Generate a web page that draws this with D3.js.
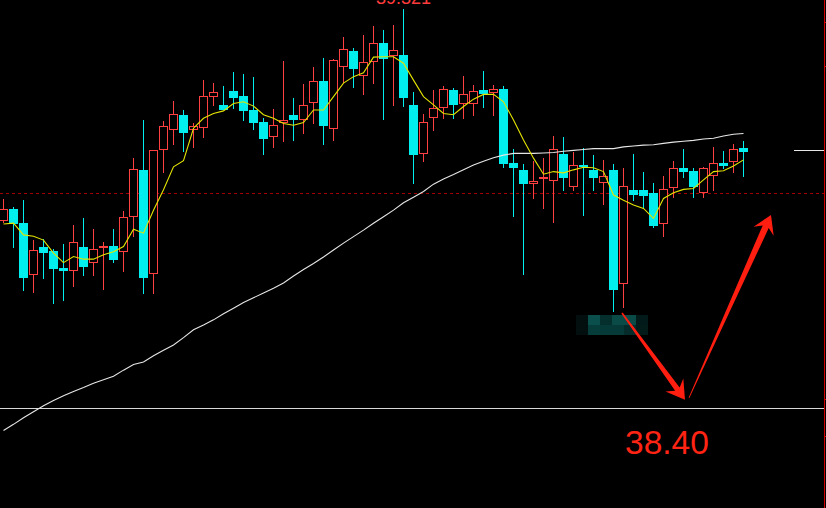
<!DOCTYPE html>
<html><head><meta charset="utf-8">
<script src="https://cdn.jsdelivr.net/npm/d3@7"></script>
<style>html,body{margin:0;padding:0;background:#000;overflow:hidden}</style>
</head><body>
<svg id="c" width="826" height="508"></svg>
<script>
// ---- data (prices) ----
const open = [38.833,38.860,38.828,38.707,38.772,38.763,38.724,38.717,38.772,38.734,
38.770,38.774,38.761,38.841,38.950,38.709,38.995,39.043,39.077,39.043,
39.046,39.119,39.100,39.132,39.120,39.088,39.060,39.025,39.059,39.077,
39.066,39.105,39.155,39.044,39.187,39.224,39.167,39.198,39.243,39.212,
39.215,39.100,38.986,39.069,39.092,39.134,39.103,39.103,39.134,39.127,
39.136,38.966,38.950,38.918,38.929,38.925,38.987,38.911,38.961,38.950,
38.919,38.950,38.686,38.904,38.904,38.897,38.824,38.907,38.954,38.947,
38.896,38.935,38.966,38.969,39.000];
const high = [38.883,38.864,38.880,38.788,38.790,38.767,38.779,38.823,38.839,38.814,
38.783,38.814,38.855,38.977,39.065,38.995,39.063,39.109,39.088,39.058,
39.157,39.150,39.143,39.176,39.171,39.164,39.069,39.090,39.201,39.116,
39.148,39.187,39.207,39.206,39.256,39.230,39.261,39.282,39.273,39.284,
39.321,39.129,39.078,39.134,39.143,39.138,39.166,39.146,39.178,39.146,
39.143,38.998,38.964,38.970,38.977,39.028,39.026,38.992,39.000,38.984,
38.973,38.963,38.954,38.987,38.945,38.920,38.936,38.970,38.998,38.954,
38.957,39.003,38.993,39.010,39.016];
const low = [38.828,38.770,38.671,38.667,38.699,38.640,38.648,38.680,38.706,38.706,
38.674,38.736,38.715,38.796,38.664,38.664,38.943,39.007,38.992,39.001,
39.024,39.097,39.089,39.090,39.063,39.042,38.984,39.001,39.015,39.017,
39.033,39.056,39.008,39.017,39.150,39.139,39.123,39.149,39.066,39.097,
39.096,38.917,38.969,39.040,39.067,39.067,39.067,39.075,39.092,39.075,
38.954,38.841,38.707,38.883,38.860,38.828,38.902,38.902,38.844,38.902,
38.870,38.623,38.632,38.879,38.862,38.817,38.796,38.886,38.932,38.886,
38.886,38.902,38.953,38.943,38.934];
const close = [38.859,38.825,38.701,38.765,38.759,38.722,38.717,38.783,38.727,38.767,
38.774,38.743,38.841,38.951,38.701,38.995,39.050,39.078,39.036,39.051,
39.120,39.129,39.089,39.116,39.086,39.059,39.020,39.053,39.065,39.066,
39.099,39.155,39.050,39.203,39.228,39.183,39.198,39.242,39.206,39.226,
39.116,38.985,39.060,39.092,39.136,39.100,39.124,39.133,39.126,39.136,
38.964,38.955,38.918,38.924,38.933,38.997,38.932,38.961,38.957,38.932,
38.936,38.674,38.912,38.893,38.890,38.821,38.905,38.954,38.946,38.911,
38.954,38.965,38.960,38.997,38.992];
const maShort = [38.825,38.827,38.800,38.797,38.788,38.758,38.736,38.750,38.744,38.744,
38.754,38.761,38.773,38.813,38.804,38.857,38.904,38.957,38.971,39.046,
39.069,39.080,39.086,39.103,39.107,39.097,39.077,39.069,39.057,39.053,
39.059,39.088,39.088,39.119,39.150,39.165,39.174,39.210,39.211,39.211,
39.196,39.157,39.119,39.100,39.080,39.077,39.096,39.113,39.124,39.124,
39.107,39.065,39.019,38.977,38.940,38.946,38.943,38.950,38.956,38.955,
38.946,38.892,38.880,38.869,38.861,38.838,38.884,38.897,38.905,38.907,
38.927,38.946,38.948,38.959,38.973];
const maLong = [38.349,38.363,38.378,38.392,38.406,38.418,38.429,38.439,38.448,38.458,
38.466,38.474,38.488,38.501,38.507,38.521,38.534,38.546,38.563,38.581,
38.592,38.604,38.618,38.631,38.644,38.655,38.666,38.677,38.689,38.705,
38.720,38.734,38.749,38.765,38.781,38.796,38.811,38.827,38.842,38.857,
38.874,38.887,38.900,38.917,38.929,38.939,38.950,38.961,38.970,38.978,
38.984,38.988,38.988,38.988,38.989,38.990,38.993,38.995,38.997,38.999,
38.999,38.999,39.003,39.005,39.007,39.008,39.011,39.014,39.016,39.018,
39.021,39.023,39.028,39.032,39.034];
const supportPrice = 38.40;
const refPrice = 38.896;
const lastPrice = 38.995;
const axisTicks = [39.290, 39.189, 38.421, 38.335];
const arrowStart = [[61.85, 38.620], [68.55, 38.424]];
const arrowEnd   = [[68.15, 38.420], [76.75, 38.846]];
const mosaicRows = [
  ["#030f0f","#0a4f4c","#052f2d","#0a4a47","#0a4a47","#031a1a"],
  ["#030f0f","#063d3a","#053a38","#063a38","#052c2b","#031c1a"]
];

// ---- drawing ----
const W = 826, H = 508;
const svg = d3.select("#c");
svg.append("rect").attr("width", W).attr("height", H).attr("fill", "#000");

const x = d3.scaleLinear().domain([0, 74]).range([3.5, 743.5]);
const y = d3.scaleLinear().domain([supportPrice, d3.max(high)]).range([408.3, 9]);
const crisp = v => Math.floor(y(v)) + 0.5;

const UP = "#ff4040", DOWN = "#00eeee";

// reference dashed line
svg.append("line").attr("x1", 0).attr("x2", 824).attr("y1", crisp(refPrice)).attr("y2", crisp(refPrice))
  .attr("stroke", "#a00000").attr("stroke-width", 1).attr("stroke-dasharray", "3,3");

// support line
svg.append("line").attr("x1", 0).attr("x2", 824).attr("y1", crisp(supportPrice)).attr("y2", crisp(supportPrice))
  .attr("stroke", "#d8d8d8").attr("stroke-width", 1);

// last price marker
svg.append("line").attr("x1", 794).attr("x2", 824).attr("y1", crisp(lastPrice)).attr("y2", crisp(lastPrice))
  .attr("stroke", "#e8e8e8").attr("stroke-width", 1);

// right axis
svg.append("line").attr("x1", 824.5).attr("x2", 824.5).attr("y1", 0).attr("y2", H)
  .attr("stroke", "#d00000").attr("stroke-width", 1);
svg.selectAll("line.tick").data(axisTicks).join("line").attr("class", "tick")
  .attr("x1", 824).attr("x2", 826).attr("y1", d => crisp(d)).attr("y2", d => crisp(d))
  .attr("stroke", "#d00000").attr("stroke-width", 1);

// candles
const candles = d3.range(open.length).map(i => ({i, o: open[i], h: high[i], l: low[i], c: close[i], up: close[i] >= open[i]}));
const g = svg.append("g");
g.selectAll("line.wick").data(candles).join("line").attr("class", "wick")
  .attr("x1", d => x(d.i)).attr("x2", d => x(d.i))
  .attr("y1", d => Math.round(y(d.h))).attr("y2", d => Math.round(y(d.l)))
  .attr("stroke", d => d.up ? UP : DOWN).attr("stroke-width", 1);
g.selectAll("rect.body").data(candles).join("rect").attr("class", "body")
  .each(function(d) {
    const top = Math.round(y(Math.max(d.o, d.c)));
    const bot = Math.round(y(Math.min(d.o, d.c)));
    const sel = d3.select(this);
    if (d.up) {
      sel.attr("x", x(d.i) - 4).attr("y", top + 0.5).attr("width", 8).attr("height", Math.max(1, bot - top - 1))
        .attr("fill", "#000").attr("stroke", UP).attr("stroke-width", 1);
    } else {
      sel.attr("x", x(d.i) - 4.5).attr("y", top).attr("width", 9).attr("height", Math.max(1, bot - top))
        .attr("fill", DOWN);
    }
  });

// moving averages
const line = d3.line().x((d, i) => x(i)).y(d => y(d));
svg.append("path").attr("d", line(maLong)).attr("fill", "none").attr("stroke", "#e6e6e6").attr("stroke-width", 1.1);
svg.append("path").attr("d", line(maShort)).attr("fill", "none").attr("stroke", "#e4e400").attr("stroke-width", 1.1);

// high label
svg.append("text").attr("x", x(high.indexOf(d3.max(high)))).attr("y", 4)
  .attr("text-anchor", "middle").attr("font-family", "'Liberation Sans', Arial, sans-serif")
  .attr("font-size", 18).attr("fill", "#ff3c3c").text(d3.max(high).toFixed(3));

// mosaic (censored label) under the low candle
const mi = 61;
const mx0 = x(mi) - 37.5, my0 = Math.round(y(low[mi])) + 3;
mosaicRows.forEach((row, r) => row.forEach((col, c) => {
  svg.append("rect").attr("x", mx0 + c * 12).attr("y", my0 + r * 10).attr("width", 12).attr("height", 10).attr("fill", col);
}));

// arrows
function arrowPath(p0, p1, L, Hw, w0, w1) {
  const dx = p1[0] - p0[0], dy = p1[1] - p0[1];
  const len = Math.hypot(dx, dy);
  const ux = dx / len, uy = dy / len, nx = -uy, ny = ux;
  const at = (a, b) => [p1[0] + ux * a + nx * b, p1[1] + uy * a + ny * b];
  const neck = -L * 0.72;
  const pts = [
    [p0[0] + nx * w0, p0[1] + ny * w0],
    at(neck, w1), at(-L, Hw), [p1[0], p1[1]], at(-L, -Hw), at(neck, -w1),
    [p0[0] - nx * w0, p0[1] - ny * w0]
  ];
  return "M" + pts.map(p => p[0].toFixed(2) + "," + p[1].toFixed(2)).join("L") + "Z";
}
arrowStart.forEach((s, k) => {
  const p0 = [x(s[0]), y(s[1])], p1 = [x(arrowEnd[k][0]), y(arrowEnd[k][1])];
  svg.append("path").attr("d", arrowPath(p0, p1, 18, 11, k === 0 ? 0.8 : 0.4, k === 0 ? 2.8 : 3.3))
    .attr("fill", "#ff1e10");
});

// support label
svg.append("text").attr("x", x(62.15)).attr("y", Math.round(y(supportPrice)) + 46)
  .attr("font-family", "'Liberation Sans', Arial, sans-serif").attr("font-size", 33.5)
  .attr("fill", "#ff2414").text(supportPrice.toFixed(2));
</script>
</body></html>
